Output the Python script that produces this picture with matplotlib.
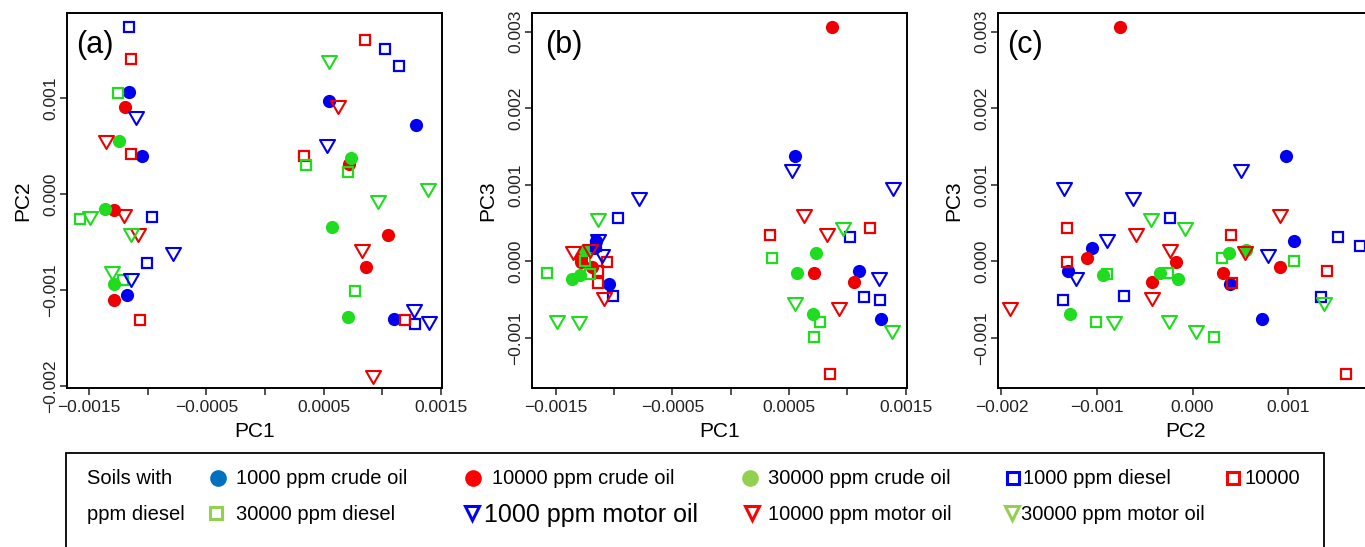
import matplotlib
matplotlib.use("Agg")
import matplotlib.pyplot as plt
from matplotlib.lines import Line2D
from matplotlib.patches import Rectangle
from matplotlib.path import Path

plt.rcParams['font.family'] = ['Liberation Sans', 'DejaVu Sans']

# PC scores, 6 soil samples per contamination group
crude1000_pc1 = [-0.001158, -0.001047, -0.001175, 0.000547, 0.001287, 0.001096]
crude1000_pc2 = [0.001063, 0.000397, -0.001054, 0.000976, 0.000728, -0.001302]
crude1000_pc3 = [0.000268, -0.000290, 0.000168, 0.001375, -0.000752, -0.000124]

crude10000_pc1 = [-0.001190, -0.001287, -0.001287, 0.001053, 0.000865, 0.000717]
crude10000_pc2 = [0.000913, -0.000168, -0.001103, -0.000420, -0.000761, 0.000320]
crude10000_pc3 = [-0.000080, -0.000007, 0.000037, -0.000268, 0.003065, -0.000159]

crude30000_pc1 = [-0.001247, -0.001363, -0.001289, 0.000572, 0.000706, 0.000734]
crude30000_pc2 = [0.000557, -0.000155, -0.000936, -0.000343, -0.001285, 0.000383]
crude30000_pc3 = [0.000146, -0.000229, -0.000185, -0.000159, -0.000691, 0.000111]

diesel1000_pc1 = [-0.001158, -0.000965, -0.001008, 0.001025, 0.001142, 0.001281]
diesel1000_pc2 = [0.001750, -0.000238, -0.000720, 0.001520, 0.001342, -0.001355]
diesel1000_pc3 = [0.000198, 0.000560, -0.000455, 0.000312, -0.000464, -0.000499]

diesel10000_pc1 = [-0.001139, -0.001139, -0.001062, 0.000851, 0.000333, 0.001190]
diesel10000_pc2 = [0.001412, 0.000417, -0.001309, 0.001610, 0.000403, -0.001309]
diesel10000_pc3 = [-0.000124, -0.000281, -0.000007, -0.001475, 0.000338, 0.000429]

diesel30000_pc1 = [-0.001252, -0.001577, 0.000350, 0.000712, 0.000766, -0.001210]
diesel30000_pc2 = [0.001059, -0.000256, 0.000310, 0.000229, -0.001006, -0.000894]
diesel30000_pc3 = [0.000007, -0.000159, 0.000046, -0.000987, -0.000795, -0.000168]

motor1000_pc1 = [-0.001100, -0.000783, -0.001139, 0.000527, 0.001267, 0.001395]
motor1000_pc2 = [0.000791, -0.000622, -0.000894, 0.000505, -0.001222, -0.001347]
motor1000_pc3 = [0.000067, 0.000813, 0.000268, 0.001183, -0.000237, 0.000943]

motor10000_pc1 = [-0.001352, -0.001204, -0.001082, 0.000626, 0.000826, 0.000925]
motor10000_pc2 = [0.000547, -0.000231, -0.000423, 0.000913, -0.000587, -0.001906]
motor10000_pc3 = [0.000115, 0.000137, -0.000486, 0.000590, 0.000338, -0.000617]

motor30000_pc1 = [-0.001489, -0.001139, -0.001301, 0.000550, 0.000962, 0.001386]
motor30000_pc2 = [-0.000245, -0.000430, -0.000824, 0.001377, -0.000081, 0.000041]
motor30000_pc3 = [-0.000791, 0.000538, -0.000804, -0.000560, 0.000416, -0.000922]

legend_row1 = ['1000 ppm crude oil', '10000 ppm crude oil', '30000 ppm crude oil',
               '1000 ppm diesel', '10000']
legend_row2 = ['30000 ppm diesel', '1000 ppm motor oil', '10000 ppm motor oil',
               '30000 ppm motor oil']

BLUE, RED, GREEN = '#0000ee', '#ee0000', '#1fdc1f'
tri = Path([(-1, 0.866), (1, 0.866), (0, -0.866), (-1, 0.866)],
           [Path.MOVETO, Path.LINETO, Path.LINETO, Path.CLOSEPOLY])

groups = [
    (crude1000_pc1, crude1000_pc2, crude1000_pc3, BLUE, 'o'),
    (crude10000_pc1, crude10000_pc2, crude10000_pc3, RED, 'o'),
    (crude30000_pc1, crude30000_pc2, crude30000_pc3, GREEN, 'o'),
    (diesel1000_pc1, diesel1000_pc2, diesel1000_pc3, BLUE, 's'),
    (diesel10000_pc1, diesel10000_pc2, diesel10000_pc3, RED, 's'),
    (diesel30000_pc1, diesel30000_pc2, diesel30000_pc3, GREEN, 's'),
    (motor1000_pc1, motor1000_pc2, motor1000_pc3, BLUE, 'v'),
    (motor10000_pc1, motor10000_pc2, motor10000_pc3, RED, 'v'),
    (motor30000_pc1, motor30000_pc2, motor30000_pc3, GREEN, 'v'),
]

W, H = 1365, 547
fig = plt.figure(figsize=(W / 100, H / 100), dpi=100)


def fx(x):
    return x / W


def fy(y):
    return 1 - y / H


def lab(v, fmt):
    s = fmt.format(v)
    return s.replace('-', '\u2212')


def draw(ax, xi, yi):
    for g in groups:
        x, y, col, m = g[xi], g[yi], g[3], g[4]
        if m == 'o':
            ax.plot(x, y, 'o', ls='none', ms=9.5, color=col, mec=col, mew=0)
        elif m == 's':
            ax.plot(x, y, 's', ls='none', ms=7.6, mfc='none', mec=col, mew=1.6)
        else:
            ax.plot(x, y, marker=tri, ls='none', ms=10.8, mfc='none', mec=col, mew=1.5)


def style(ax):
    for sp in ax.spines.values():
        sp.set_linewidth(1.4)
    ax.tick_params(direction='out', length=5, width=1.1, labelsize=12.5,
                   pad=4, colors='#222222')
    ax.tick_params(axis='y', pad=1.5)
    for t in ax.get_yticklabels():
        t.set_rotation(90)
        t.set_va('center')


pc1_ticks = [-0.0015, -0.001, -0.0005, 0, 0.0005, 0.001, 0.0015]
pc1_labels = [lab(v, '{:.4f}') if i % 2 == 0 else '' for i, v in enumerate(pc1_ticks)]

# (a) PC1 vs PC2
ax1 = fig.add_axes([fx(67), fy(388), 375 / W, 375 / H])
draw(ax1, 0, 1)
ax1.set_xlim(-0.001687, 0.001509)
ax1.set_ylim(-0.002022, 0.001892)
ax1.set_xticks(pc1_ticks)
ax1.set_xticklabels(pc1_labels)
yt = [-0.002, -0.001, 0.0, 0.001]
ax1.set_yticks(yt)
ax1.set_yticklabels([lab(v, '{:.3f}') for v in yt])
ax1.set_xlabel('PC1', fontsize=15, labelpad=5)
ax1.set_ylabel('PC2', fontsize=15, labelpad=8)
ax1.text(0.024, 0.915, '(a)', transform=ax1.transAxes, fontsize=22, va='center')
style(ax1)

# (b) PC1 vs PC3
ax2 = fig.add_axes([fx(532), fy(388), 375 / W, 375 / H])
draw(ax2, 0, 2)
ax2.set_xlim(-0.001703, 0.001511)
ax2.set_ylim(-0.001655, 0.003244)
ax2.set_xticks(pc1_ticks)
ax2.set_xticklabels(pc1_labels)
yt3 = [-0.001, 0.0, 0.001, 0.002, 0.003]
ax2.set_yticks(yt3)
ax2.set_yticklabels([lab(v, '{:.3f}') for v in yt3])
ax2.set_xlabel('PC1', fontsize=15, labelpad=5)
ax2.set_ylabel('PC3', fontsize=15, labelpad=8)
ax2.text(0.035, 0.915, '(b)', transform=ax2.transAxes, fontsize=22, va='center')
style(ax2)

# (c) PC2 vs PC3
ax3 = fig.add_axes([fx(998), fy(388), 375 / W, 375 / H])
draw(ax3, 1, 2)
ax3.set_xlim(-0.002036, 0.001889)
ax3.set_ylim(-0.001655, 0.003244)
xt = [-0.002, -0.001, 0.0, 0.001]
ax3.set_xticks(xt)
ax3.set_xticklabels([lab(v, '{:.3f}') for v in xt])
ax3.set_yticks(yt3)
ax3.set_yticklabels([lab(v, '{:.3f}') for v in yt3])
ax3.set_xlabel('PC2', fontsize=15, labelpad=5)
ax3.set_ylabel('PC3', fontsize=15, labelpad=8)
ax3.text(0.024, 0.915, '(c)', transform=ax3.transAxes, fontsize=22, va='center')
style(ax3)

# legend box
fig.add_artist(Rectangle((fx(66), -0.1), (1324 - 66) / W, 0.1 + (547 - 453) / H,
                         transform=fig.transFigure, fill=False, lw=1.3, ec='black'))

LB, LR, LG = '#0070c0', '#ff0000', '#92d050'
row1_marks = [(218, 'o', LB, True), (473, 'o', LR, True), (750, 'o', LG, True),
              (1013, 's', '#0000ff', False), (1233, 's', LR, False)]
row1_text = [236, 492, 768, 1023, 1245]
row2_marks = [(216, 's', LG, False), (472, 'v', '#0000ff', False),
              (752, 'v', LR, False), (1012, 'v', LG, False)]
row2_text = [236, 484, 768, 1021]

fig.text(fx(87), fy(479), 'Soils with', fontsize=14.5, va='center')
fig.text(fx(87), fy(515), 'ppm diesel', fontsize=14.5, va='center')
for (x, mk, col, filled), tx, t in zip(row1_marks, row1_text, legend_row1):
    fig.add_artist(Line2D([fx(x)], [fy(478)], transform=fig.transFigure, marker=mk,
                          ms=12 if filled else 9, ls='none',
                          mfc=col if filled else 'none', mec=col,
                          mew=0 if filled else 2.2))
    fig.text(fx(tx), fy(479), t, fontsize=14.5, va='center')
for (x, mk, col, filled), tx, t in zip(row2_marks, row2_text, legend_row2):
    fig.add_artist(Line2D([fx(x)], [fy(513)], transform=fig.transFigure, marker=mk,
                          ms=9 if mk == 's' else 10.5, ls='none', mfc='none', mec=col,
                          mew=2.2))
    fig.text(fx(tx), fy(515), t, fontsize=18 if t == '1000 ppm motor oil' else 14.5,
             va='center')

fig.savefig('out.png', dpi=100)
